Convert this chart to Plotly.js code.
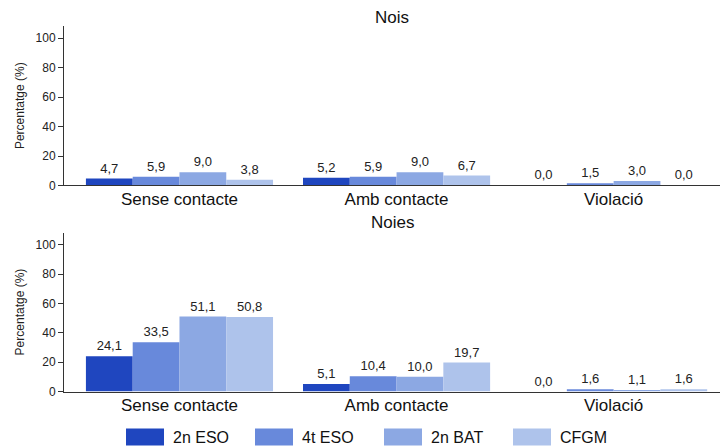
<!DOCTYPE html>
<html>
<head>
<meta charset="utf-8">
<script src="https://cdn.plot.ly/plotly-3.0.1.min.js"></script>
<style>html,body{margin:0;padding:0;background:#fff}#chart{width:720px;height:448px}</style>
</head>
<body>
<div id="chart"></div>
<script>
const categories = ["Sense contacte", "Amb contacte", "Violació"];
const seriesNames = ["2n ESO", "4t ESO", "2n BAT", "CFGM"];
const noisValues = [
  [4.7, 5.2, 0.0],
  [5.9, 5.9, 1.5],
  [9.0, 9.0, 3.0],
  [3.8, 6.7, 0.0]
];
const noiesValues = [
  [24.1, 5.1, 0.0],
  [33.5, 10.4, 1.6],
  [51.1, 10.0, 1.1],
  [50.8, 19.7, 1.6]
];
const colors = ["#1f46bf", "#6889db", "#8ca8e3", "#aec3eb"];
const yTicks = [0, 20, 40, 60, 80, 100];

const FONT = "Liberation Sans, Arial, Helvetica, sans-serif";
const traces = [];
seriesNames.forEach((name, i) => {
  traces.push({
    type: "bar", name: name, x: categories, y: noisValues[i],
    xaxis: "x", yaxis: "y", marker: {color: colors[i], line: {width: 0}},
    texttemplate: "%{y:.1f}", textposition: "outside", cliponaxis: false,
    textfont: {family: FONT, size: 13, color: "#222"},
    legendgroup: name, showlegend: true, hoverinfo: "skip"
  });
});
seriesNames.forEach((name, i) => {
  traces.push({
    type: "bar", name: name, x: categories, y: noiesValues[i],
    xaxis: "x2", yaxis: "y2", marker: {color: colors[i], line: {width: 0}},
    texttemplate: "%{y:.1f}", textposition: "outside", cliponaxis: false,
    textfont: {family: FONT, size: 13, color: "#222"},
    legendgroup: name, showlegend: false, hoverinfo: "skip"
  });
});

const xCommon = {
  type: "category", range: [-0.532, 2.49], showgrid: false, zeroline: false,
  showline: true, linecolor: "#333", linewidth: 1, ticks: "", ticklabelstandoff: -2,
  tickfont: {family: FONT, size: 17, color: "#111"}, domain: [0, 1], fixedrange: true
};
const yCommon = {
  range: [0, 108.3], tickvals: yTicks, showgrid: false, zeroline: false,
  showline: true, linecolor: "#333", linewidth: 1, ticks: "outside", ticklen: 5, tickcolor: "#333",
  tickfont: {family: FONT, size: 12, color: "#222"},
  title: {text: "Percentatge (%)", font: {family: FONT, size: 12, color: "#222"}, standoff: 8},
  fixedrange: true
};

const layout = {
  width: 720, height: 448,
  margin: {l: 64, r: 0, t: 0, b: 0, autoexpand: false},
  paper_bgcolor: "#fff", plot_bgcolor: "#fff",
  separators: ", ",
  font: {family: FONT, color: "#222"},
  barmode: "group", bargap: 0.138, bargroupgap: 0,
  xaxis: Object.assign({}, xCommon, {anchor: "y"}),
  yaxis: Object.assign({}, yCommon, {domain: [0.586, 0.942], anchor: "x"}),
  xaxis2: Object.assign({}, xCommon, {anchor: "y2"}),
  yaxis2: Object.assign({}, yCommon, {domain: [0.126, 0.481], anchor: "x2"}),
  showlegend: true,
  legend: {
    orientation: "h", x: 0.0808, xanchor: "left", y: 0.0246, yanchor: "middle",
    entrywidth: 68, entrywidthmode: "pixels", itemwidth: 46,
    font: {family: FONT, size: 16, color: "#111"}, traceorder: "normal"
  },
  annotations: [
    {text: "Nois", x: 0.5, y: 1 - 17/448, xref: "paper", yref: "paper", showarrow: false,
     xanchor: "center", yanchor: "middle", font: {family: FONT, size: 17, color: "#111"}},
    {text: "Noies", x: 0.5, y: 1 - 222/448, xref: "paper", yref: "paper", showarrow: false,
     xanchor: "center", yanchor: "middle", font: {family: FONT, size: 17, color: "#111"}}
  ]
};

Plotly.newPlot("chart", traces, layout, {displayModeBar: false, staticPlot: true}).then(() => {
  document.querySelectorAll("#chart .legend .legendpoints path").forEach(p => {
    p.setAttribute("d", "M19,8.5H-19V-8.5H19Z");
  });
});
</script>
</body>
</html>
